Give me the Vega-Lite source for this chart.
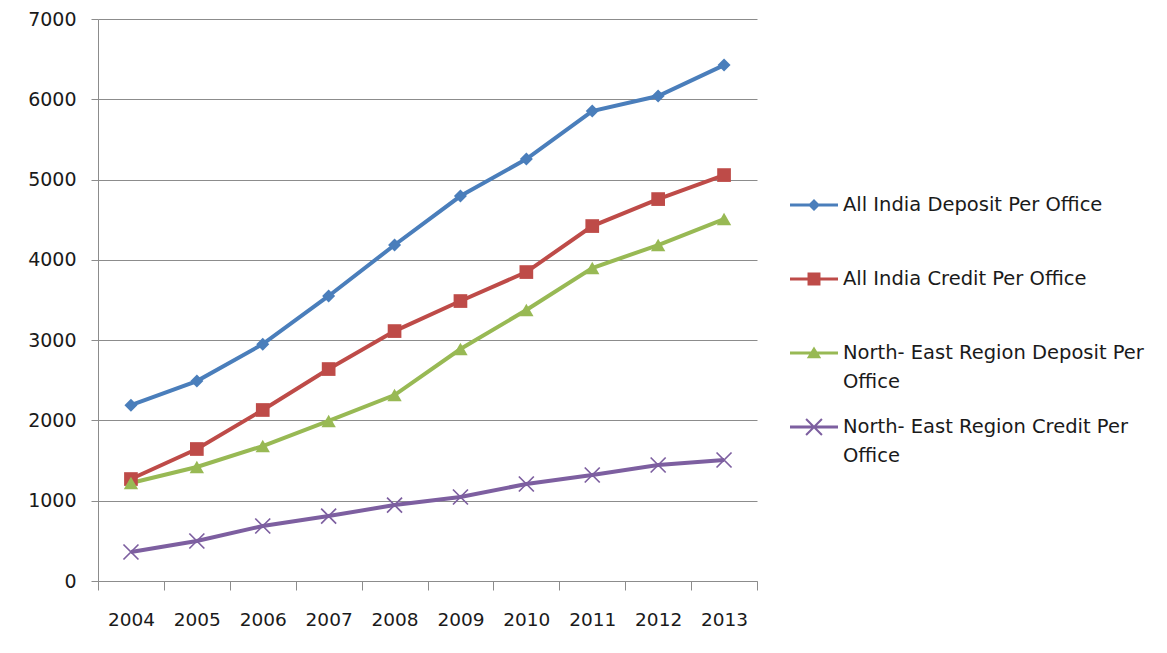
{
  "$schema": "https://vega.github.io/schema/vega-lite/v6.json",
  "width": 659,
  "height": 562,
  "autosize": {"type": "none"},
  "padding": {"left": 98, "top": 19, "right": 410, "bottom": 72},
  "background": "white",
  "config": {"view": {"stroke": null}, "style": {"guide-label": {"lineHeight": 29}}},
  "data": {
    "values": [
      {"year": "2004", "series": "All India Deposit Per Office", "value": 2190},
      {"year": "2005", "series": "All India Deposit Per Office", "value": 2490},
      {"year": "2006", "series": "All India Deposit Per Office", "value": 2950},
      {"year": "2007", "series": "All India Deposit Per Office", "value": 3550},
      {"year": "2008", "series": "All India Deposit Per Office", "value": 4185},
      {"year": "2009", "series": "All India Deposit Per Office", "value": 4795},
      {"year": "2010", "series": "All India Deposit Per Office", "value": 5255},
      {"year": "2011", "series": "All India Deposit Per Office", "value": 5853},
      {"year": "2012", "series": "All India Deposit Per Office", "value": 6040},
      {"year": "2013", "series": "All India Deposit Per Office", "value": 6426},
      {"year": "2004", "series": "All India Credit Per Office", "value": 1270},
      {"year": "2005", "series": "All India Credit Per Office", "value": 1644},
      {"year": "2006", "series": "All India Credit Per Office", "value": 2130},
      {"year": "2007", "series": "All India Credit Per Office", "value": 2640},
      {"year": "2008", "series": "All India Credit Per Office", "value": 3113},
      {"year": "2009", "series": "All India Credit Per Office", "value": 3487},
      {"year": "2010", "series": "All India Credit Per Office", "value": 3848},
      {"year": "2011", "series": "All India Credit Per Office", "value": 4421},
      {"year": "2012", "series": "All India Credit Per Office", "value": 4757},
      {"year": "2013", "series": "All India Credit Per Office", "value": 5056},
      {"year": "2004", "series": "North- East Region Deposit Per Office", "value": 1220},
      {"year": "2005", "series": "North- East Region Deposit Per Office", "value": 1420},
      {"year": "2006", "series": "North- East Region Deposit Per Office", "value": 1681},
      {"year": "2007", "series": "North- East Region Deposit Per Office", "value": 1993},
      {"year": "2008", "series": "North- East Region Deposit Per Office", "value": 2316},
      {"year": "2009", "series": "North- East Region Deposit Per Office", "value": 2889},
      {"year": "2010", "series": "North- East Region Deposit Per Office", "value": 3375},
      {"year": "2011", "series": "North- East Region Deposit Per Office", "value": 3898},
      {"year": "2012", "series": "North- East Region Deposit Per Office", "value": 4184},
      {"year": "2013", "series": "North- East Region Deposit Per Office", "value": 4508},
      {"year": "2004", "series": "North- East Region Credit Per Office", "value": 361},
      {"year": "2005", "series": "North- East Region Credit Per Office", "value": 498},
      {"year": "2006", "series": "North- East Region Credit Per Office", "value": 685},
      {"year": "2007", "series": "North- East Region Credit Per Office", "value": 809},
      {"year": "2008", "series": "North- East Region Credit Per Office", "value": 946},
      {"year": "2009", "series": "North- East Region Credit Per Office", "value": 1046},
      {"year": "2010", "series": "North- East Region Credit Per Office", "value": 1208},
      {"year": "2011", "series": "North- East Region Credit Per Office", "value": 1320},
      {"year": "2012", "series": "North- East Region Credit Per Office", "value": 1445},
      {"year": "2013", "series": "North- East Region Credit Per Office", "value": 1507}
    ]
  },
  "encoding": {
    "x": {
      "field": "year",
      "type": "ordinal",
      "scale": {"type": "band", "paddingInner": 0, "paddingOuter": 0},
      "axis": {
        "title": null,
        "tickBand": "extent",
        "grid": false,
        "labelAngle": 0,
        "domainColor": "#8c8c8c",
        "tickColor": "#8c8c8c",
        "tickSize": 9,
        "labelFont": "DejaVu Sans",
        "labelFontSize": 18.5,
        "labelColor": "#1a1a1a",
        "labelPadding": 20
      }
    },
    "y": {
      "field": "value",
      "type": "quantitative",
      "scale": {"domain": [0, 7000], "nice": false},
      "axis": {
        "title": null,
        "values": [0, 1000, 2000, 3000, 4000, 5000, 6000, 7000],
        "format": "d",
        "grid": true,
        "gridColor": "#8c8c8c",
        "domainColor": "#8c8c8c",
        "tickColor": "#8c8c8c",
        "tickSize": 7,
        "labelFont": "DejaVu Sans",
        "labelFontSize": 19,
        "labelColor": "#1a1a1a",
        "labelPadding": 15
      }
    }
  },
  "layer": [
    {
      "mark": {"type": "line", "strokeWidth": 4},
      "encoding": {
        "color": {
          "field": "series",
          "type": "nominal",
          "scale": {
            "domain": ["All India Deposit Per Office", "All India Credit Per Office", "North- East Region Deposit Per Office", "North- East Region Credit Per Office"],
            "range": ["#4A7EBB", "#BE4B48", "#98B954", "#7D5FA0"]
          },
          "legend": null
        }
      }
    },
    {
      "mark": {"type": "point", "filled": true, "opacity": 1},
      "encoding": {
        "color": {
          "field": "series",
          "type": "nominal",
          "scale": {
            "domain": ["All India Deposit Per Office", "All India Credit Per Office", "North- East Region Deposit Per Office", "North- East Region Credit Per Office"],
            "range": ["#4A7EBB", "#BE4B48", "#98B954", "#7D5FA0"]
          },
          "legend": null
        },
        "shape": {
          "field": "series",
          "type": "nominal",
          "scale": {
            "domain": ["All India Deposit Per Office", "All India Credit Per Office", "North- East Region Deposit Per Office", "North- East Region Credit Per Office"],
            "range": ["diamond", "square", "triangle-up", "M-1.08,-0.92L-0.92,-1.08L1.08,0.92L0.92,1.08Z M-1.08,0.92L0.92,-1.08L1.08,-0.92L-0.92,1.08Z"]
          },
          "legend": null
        },
        "size": {
          "field": "series",
          "type": "nominal",
          "scale": {
            "domain": ["All India Deposit Per Office", "All India Credit Per Office", "North- East Region Deposit Per Office", "North- East Region Credit Per Office"],
            "range": [169, 225, 256, 220]
          },
          "legend": null
        }
      }
    },
    {
      "transform": [{"filter": "false"}],
      "mark": {"type": "point", "filled": true, "opacity": 1},
      "encoding": {
        "fill": {
          "field": "series",
          "type": "nominal",
          "scale": {
            "domain": ["All India Deposit Per Office", "All India Credit Per Office", "North- East Region Deposit Per Office", "North- East Region Credit Per Office"],
            "range": ["#4A7EBB", "#BE4B48", "#98B954", "#7D5FA0"]
          },
          "legend": {
            "orient": "none",
            "legendX": 692,
            "legendY": 162,
            "title": null,
            "gridAlign": "all",
            "rowPadding": 11,
            "symbolSize": 2304,
            "symbolStrokeWidth": 0,
            "labelOffset": 5,
            "labelLimit": 500,
            "labelFont": "DejaVu Sans",
            "labelFontSize": 19.5,
            "labelColor": "#1a1a1a",
            "labelExpr": "datum.label == 'North- East Region Deposit Per Office' ? ['North- East Region Deposit Per', 'Office'] : datum.label == 'North- East Region Credit Per Office' ? ['North- East Region Credit Per', 'Office'] : datum.label"
          }
        },
        "shape": {
          "field": "series",
          "type": "nominal",
          "scale": {
            "domain": ["All India Deposit Per Office", "All India Credit Per Office", "North- East Region Deposit Per Office", "North- East Region Credit Per Office"],
            "range": [
              "M-1,-0.0625H1V0.0625H-1Z M0,-0.25L0.25,0L0,0.25L-0.25,0Z",
              "M-1,-0.0625H1V0.0625H-1Z M-0.27,-0.27H0.27V0.27H-0.27Z",
              "M-1,-0.0625H1V0.0625H-1Z M0,-0.27L0.3,0.22H-0.3Z",
              "M-1,-0.0625H1V0.0625H-1Z M-0.36,-0.3L-0.3,-0.36L0.36,0.3L0.3,0.36Z M-0.36,0.3L0.3,-0.36L0.36,-0.3L-0.3,0.36Z"
            ]
          },
          "legend": {
            "orient": "none",
            "legendX": 692,
            "legendY": 162,
            "title": null,
            "gridAlign": "all",
            "rowPadding": 11,
            "symbolSize": 2304,
            "symbolStrokeWidth": 0,
            "labelOffset": 5,
            "labelLimit": 500,
            "labelFont": "DejaVu Sans",
            "labelFontSize": 19.5,
            "labelColor": "#1a1a1a",
            "labelExpr": "datum.label == 'North- East Region Deposit Per Office' ? ['North- East Region Deposit Per', 'Office'] : datum.label == 'North- East Region Credit Per Office' ? ['North- East Region Credit Per', 'Office'] : datum.label"
          }
        }
      }
    }
  ],
  "resolve": {
    "scale": {"shape": "independent", "fill": "independent"},
    "legend": {"shape": "independent", "fill": "independent"}
  }
}
